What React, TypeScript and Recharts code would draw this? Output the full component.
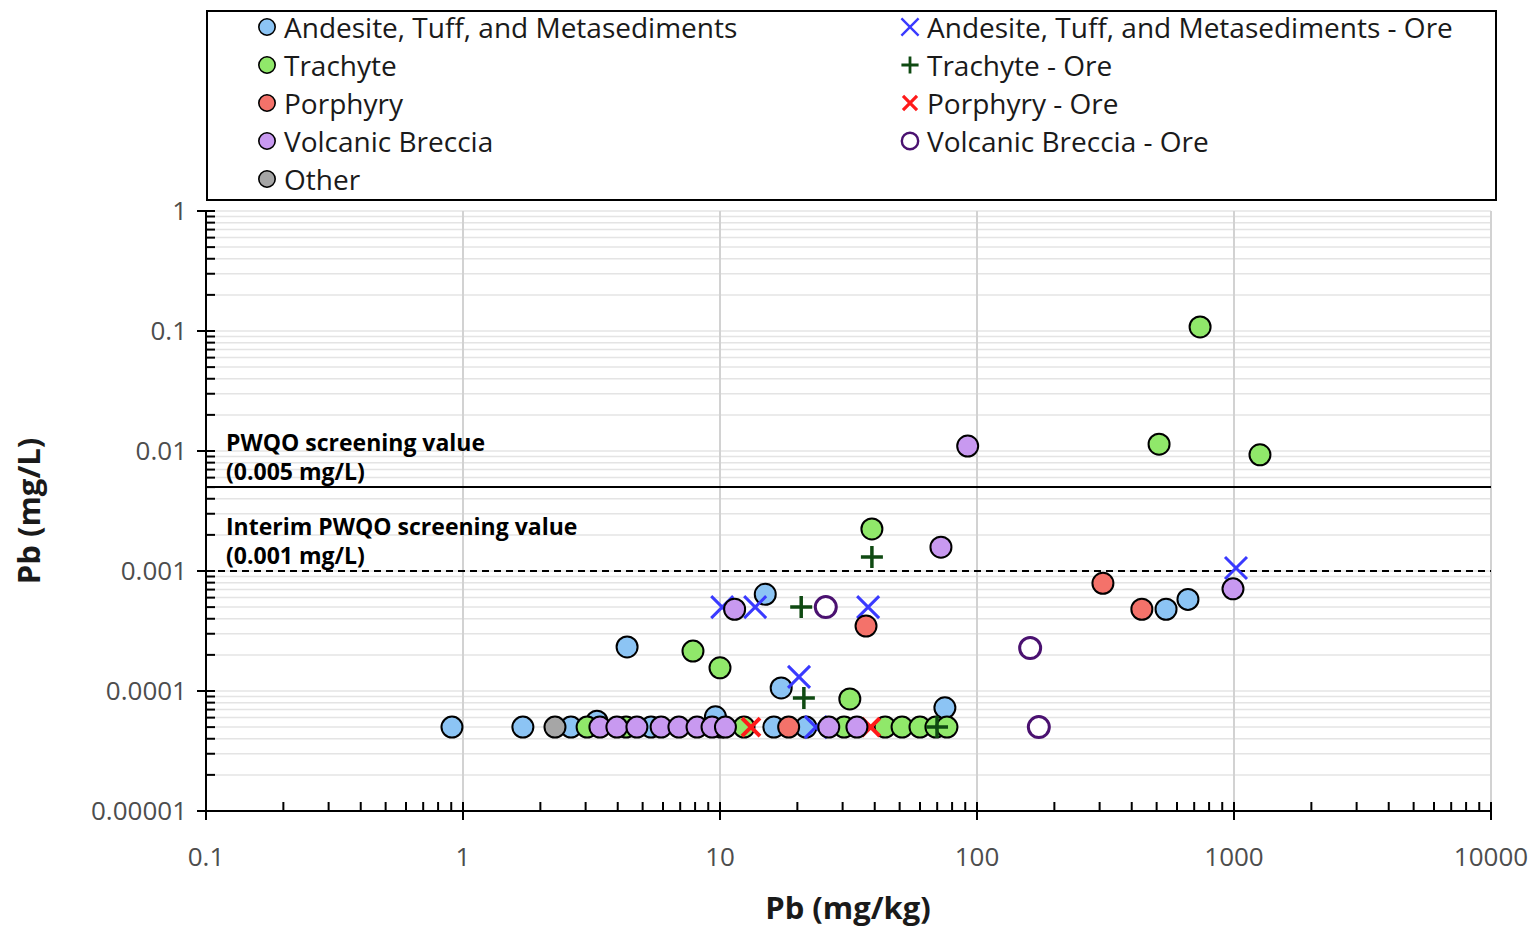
import React from "react";
import {
  ScatterChart,
  Scatter,
  XAxis,
  YAxis,
  CartesianGrid,
  ReferenceLine,
} from "recharts";

// axis ticks
const xMajorTicks = [0.1, 1, 10, 100, 1000, 10000];
const xTickLabels = ["0.1", "1", "10", "100", "1000", "10000"];
const yMajorTicks = [0.00001, 0.0001, 0.001, 0.01, 0.1, 1];
const yTickLabels = ["0.00001", "0.0001", "0.001", "0.01", "0.1", "1"];
const xGridLines = [1, 10, 100, 1000, 10000];

// screening values
const pwqo = 0.005;
const interimPwqo = 0.001;

// [Pb mg/kg, Pb mg/L]
const andesite: [number, number][] = [
  [0.906, 0.00005], [1.71, 0.00005], [2.63, 0.00005], [3.32, 0.000056], [5.39, 0.00005],
  [10.1, 0.00005], [16.2, 0.00005], [21.6, 0.00005], [4.35, 0.000233], [15, 0.00064],
  [9.6, 0.000061], [17.3, 0.000106], [75, 0.0000724], [544, 0.00048], [662, 0.00058],
];
const andesiteOre: [number, number][] = [
  [1018, 0.00106], [37.7, 0.0005], [13.7, 0.0005], [10.2, 0.0005], [20.3, 0.000131], [23.6, 0.00005],
];
const trachyte: [number, number][] = [
  [3.04, 0.00005], [4.31, 0.00005], [12.4, 0.00005], [30.4, 0.00005], [43.9, 0.00005],
  [51.1, 0.00005], [60, 0.00005], [69.2, 0.00005], [76.4, 0.00005],
  [738, 0.108], [511, 0.0114], [1262, 0.0093], [39, 0.00224], [7.85, 0.000215],
  [10, 0.000156], [32, 0.0000858],
];
const trachyteOre: [number, number][] = [
  [39, 0.00131], [20.7, 0.0005], [21.2, 0.0000875], [69.9, 0.00005],
];
const porphyry: [number, number][] = [
  [309, 0.00079], [438, 0.00048], [37, 0.000348], [18.5, 0.00005],
];
const porphyryOre: [number, number][] = [[13.2, 0.00005], [38.6, 0.00005]];
const volcanicBreccia: [number, number][] = [
  [3.41, 0.00005], [3.97, 0.00005], [4.75, 0.00005], [5.9, 0.00005], [6.92, 0.00005],
  [8.14, 0.00005], [9.31, 0.00005], [10.5, 0.00005], [26.5, 0.00005], [34.1, 0.00005],
  [92, 0.011], [72.4, 0.00158], [11.4, 0.00048], [991, 0.00071],
];
const volcanicBrecciaOre: [number, number][] = [
  [25.8, 0.0005], [161, 0.000228], [174, 0.00005],
];
const other: [number, number][] = [[2.28, 0.00005]];

const minorTicks = (majors: number[]) => {
  const out: number[] = [];
  for (let i = 0; i < majors.length - 1; i++) {
    out.push(majors[i]);
    for (let k = 2; k <= 9; k++) out.push(Number((majors[i] * k).toPrecision(6)));
  }
  out.push(majors[majors.length - 1]);
  return out;
};
const xTicks = minorTicks(xMajorTicks);
const yTicks = minorTicks(yMajorTicks);

const toPoints = (arr: [number, number][]) => arr.map(([x, y]) => ({ x, y }));

const FONT = "'Open Sans', sans-serif";

type Marker = "circle" | "x" | "plus" | "bigx" | "ring";

const drawMarker = (kind: Marker, color: string, cx: number, cy: number, scale = 1) => {
  if (kind === "circle") {
    return <circle cx={cx} cy={cy} r={10.5 * scale} fill={color} stroke="#000" strokeWidth={2 * Math.max(scale, 0.8)} />;
  }
  if (kind === "ring") {
    return <circle cx={cx} cy={cy} r={10.5 * scale} fill="#fff" stroke={color} strokeWidth={3 * Math.max(scale, 0.8)} />;
  }
  if (kind === "plus") {
    const s = 11 * scale;
    return (
      <path d={`M${cx - s},${cy}L${cx + s},${cy}M${cx},${cy - s}L${cx},${cy + s}`} stroke={color} strokeWidth={3.5 * Math.max(scale, 0.8)} />
    );
  }
  const s = (kind === "x" ? 11 : 9) * scale;
  return (
    <path
      d={`M${cx - s},${cy - s}L${cx + s},${cy + s}M${cx - s},${cy + s}L${cx + s},${cy - s}`}
      stroke={color}
      strokeWidth={(kind === "x" ? 3 : 4) * Math.max(scale, 0.8)}
    />
  );
};

const series: { name: string; data: [number, number][]; marker: Marker; color: string }[] = [
  { name: "Andesite, Tuff, and Metasediments", data: andesite, marker: "circle", color: "#8cc4f4" },
  { name: "Andesite, Tuff, and Metasediments - Ore", data: andesiteOre, marker: "x", color: "#3a3aff" },
  { name: "Trachyte", data: trachyte, marker: "circle", color: "#90e86a" },
  { name: "Trachyte - Ore", data: trachyteOre, marker: "plus", color: "#0f4a12" },
  { name: "Porphyry", data: porphyry, marker: "circle", color: "#f4726a" },
  { name: "Porphyry - Ore", data: porphyryOre, marker: "bigx", color: "#ff1a1a" },
  { name: "Volcanic Breccia", data: volcanicBreccia, marker: "circle", color: "#c899f0" },
  { name: "Volcanic Breccia - Ore", data: volcanicBrecciaOre, marker: "ring", color: "#4a1170" },
  { name: "Other", data: other, marker: "circle", color: "#a6a6a6" },
];

const XTick = (props: any) => {
  const { x, y, payload } = props;
  const i = xMajorTicks.indexOf(payload.value);
  return (
    <g>
      <line x1={x} x2={x} y1={y - 9} y2={i >= 0 ? y + 9 : y} stroke="#000" strokeWidth={2} />
      {i >= 0 && (
        <text x={x} y={y + 46} dy="0.35em" textAnchor="middle" fontSize={26} fill="#4d4d4d" fontFamily={FONT}>
          {xTickLabels[i]}
        </text>
      )}
    </g>
  );
};

const YTick = (props: any) => {
  const { x, y, payload } = props;
  const i = yMajorTicks.indexOf(payload.value);
  return (
    <g>
      <line x1={i >= 0 ? x - 9 : x} x2={x + 9} y1={y} y2={y} stroke="#000" strokeWidth={2} />
      {i >= 0 && (
        <text x={x - 19} y={y} dy="0.35em" textAnchor="end" fontSize={26} fill="#4d4d4d" fontFamily={FONT}>
          {yTickLabels[i]}
        </text>
      )}
    </g>
  );
};

const lineLabel = (lines: string[]) => (props: any) => {
  const { viewBox } = props;
  return (
    <text x={viewBox.x + 21} y={viewBox.y} fontSize={23} fontWeight={700} fill="#000" fontFamily={FONT}>
      <tspan x={viewBox.x + 20} dy={-36}>{lines[0]}</tspan>
      <tspan x={viewBox.x + 20} dy={29}>{lines[1]}</tspan>
    </text>
  );
};

const Legend = () => (
  <div
    style={{
      position: "absolute",
      left: 198,
      top: 2,
      width: 1291,
      height: 191,
      border: "2px solid #000",
      boxSizing: "border-box",
      fontFamily: FONT,
      fontSize: 28,
      color: "#1a1a1a",
    }}
  >
    {series.map((s, i) => {
      const ore = s.name.endsWith("Ore");
      const row = ore ? (i - 1) / 2 : Math.min(i / 2, 4);
      const left = ore ? 692 : 49;
      return (
        <div key={s.name} style={{ position: "absolute", left, top: row * 38 - 2, height: 34, display: "flex", alignItems: "center", whiteSpace: "nowrap" }}>
          <svg width={20} height={20} style={{ marginRight: 7 }}>
            {drawMarker(s.marker, s.color, 10, 10, 0.78)}
          </svg>
          <span>{s.name}</span>
        </div>
      );
    })}
  </div>
);

export default function App() {
  return (
    <div style={{ position: "relative", width: 1530, height: 918, fontFamily: FONT }}>
      <Legend />
      <ScatterChart width={1530} height={918} margin={{ top: 203, right: 47, bottom: 0, left: 0 }}>
        <CartesianGrid vertical={false} stroke="#e4e4e4" strokeWidth={1.5} />
        {xGridLines.map((v) => (
          <ReferenceLine key={v} x={v} stroke="#d2d2d2" strokeWidth={2} />
        ))}
        <XAxis
          type="number"
          dataKey="x"
          scale="log"
          domain={[0.1, 10000]}
          ticks={xTicks}
          interval={0}
          height={115}
          tickSize={0}
          tickMargin={0}
          tickLine={false}
          tick={<XTick />}
          axisLine={{ stroke: "#000", strokeWidth: 2 }}
          allowDataOverflow
        />
        <YAxis
          type="number"
          dataKey="y"
          scale="log"
          domain={[0.00001, 1]}
          ticks={yTicks}
          interval={0}
          width={198}
          tickSize={0}
          tickMargin={0}
          tickLine={false}
          tick={<YTick />}
          axisLine={{ stroke: "#000", strokeWidth: 2 }}
          allowDataOverflow
        />
        <ReferenceLine y={pwqo} stroke="#000" strokeWidth={2} label={lineLabel(["PWQO screening value", "(0.005 mg/L)"])} />
        <ReferenceLine
          y={interimPwqo}
          stroke="#000"
          strokeWidth={2}
          strokeDasharray="7 5"
          label={lineLabel(["Interim PWQO screening value", "(0.001 mg/L)"])}
        />
        {series.map((s) => (
          <Scatter
            key={s.name}
            name={s.name}
            data={toPoints(s.data)}
            isAnimationActive={false}
            shape={(p: any) => drawMarker(s.marker, s.color, p.cx, p.cy)}
          />
        ))}
      </ScatterChart>
      <div
        style={{
          position: "absolute",
          left: 840,
          top: 899,
          transform: "translate(-50%, -50%)",
          fontSize: 31,
          fontWeight: 700,
          color: "#1a1a1a",
          whiteSpace: "nowrap",
        }}
      >
        Pb (mg/kg)
      </div>
      <div
        style={{
          position: "absolute",
          left: 20,
          top: 503,
          transform: "translate(-50%, -50%) rotate(-90deg)",
          fontSize: 31,
          fontWeight: 700,
          color: "#1a1a1a",
          whiteSpace: "nowrap",
        }}
      >
        Pb (mg/L)
      </div>
    </div>
  );
}
